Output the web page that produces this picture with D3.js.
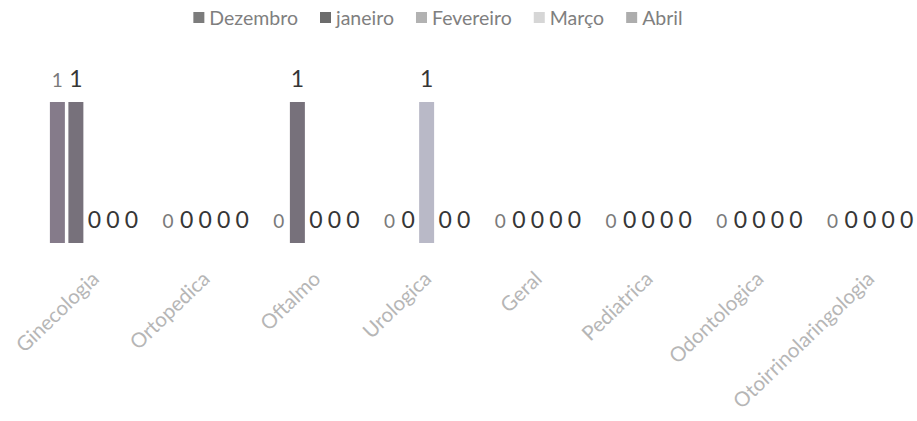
<!DOCTYPE html>
<html>
<head>
<meta charset="utf-8">
<script src="https://cdn.jsdelivr.net/npm/d3@7"></script>
<style>
  html, body { margin: 0; padding: 0; background: #ffffff; }
  svg { display: block; }
  text { font-family: Lato, "Open Sans", sans-serif; }
</style>
</head>
<body>
<svg id="chart" width="917" height="421"></svg>
<script>
// ---- data ----
const categories = ["Ginecologia", "Ortopedica", "Oftalmo", "Urologica", "Geral", "Pediatrica", "Odontologica", "Otoirrinolaringologia"];
const seriesNames = ["Dezembro", "janeiro", "Fevereiro", "Março", "Abril"];
const dezembro  = [1, 0, 0, 0, 0, 0, 0, 0];
const janeiro   = [1, 0, 1, 0, 0, 0, 0, 0];
const fevereiro = [0, 0, 0, 1, 0, 0, 0, 0];
const marco     = [0, 0, 0, 0, 0, 0, 0, 0];
const abril     = [0, 0, 0, 0, 0, 0, 0, 0];
const seriesValues = [dezembro, janeiro, fevereiro, marco, abril];
const seriesColors = ["#857b8a", "#77717b", "#b9b9c7", "#d8d8d8", "#ababab"];
const legendColors = ["#7c7c7c", "#6c6c6c", "#b2b2b2", "#d6d6d6", "#adadad"];

// ---- layout ----
const svg = d3.select("#chart");

const x0 = d3.scaleBand().domain(categories).range([39, 925]).paddingInner(0.165).paddingOuter(0.0825);
const x1 = d3.scaleBand().domain(seriesNames).range([0, x0.bandwidth()]).paddingInner(0.19).paddingOuter(0.095);
const y = d3.scaleLinear().domain([0, 1]).range([243, 102]);

const rows = [];
categories.forEach((c, ci) => {
  seriesNames.forEach((s, si) => {
    rows.push({ cat: c, series: s, si: si, value: seriesValues[si][ci] });
  });
});

// bars
svg.append("g").selectAll("rect")
  .data(rows.filter(d => d.value > 0))
  .join("rect")
  .attr("x", d => x0(d.cat) + x1(d.series))
  .attr("y", d => y(d.value))
  .attr("width", x1.bandwidth())
  .attr("height", d => y(0) - y(d.value))
  .attr("fill", d => seriesColors[d.si]);

// data labels
svg.append("g").selectAll("text")
  .data(rows)
  .join("text")
  .attr("x", d => x0(d.cat) + x1(d.series) + x1.bandwidth() / 2)
  .attr("y", d => y(d.value) - 15)
  .attr("text-anchor", "middle")
  .attr("font-size", d => d.si === 0 ? 19 : 23)
  .attr("fill", d => d.si === 0 ? "#7a7a7a" : "#363636")
  .text(d => d.value);

// x axis (labels only)
const xAxis = d3.axisBottom(x0).tickSize(0).tickPadding(0);
const gx = svg.append("g").attr("transform", `translate(0, 262)`).call(xAxis);
gx.select(".domain").remove();
gx.selectAll("text")
  .attr("font-family", "Lato, 'Open Sans', sans-serif")
  .attr("font-size", 20.5)
  .attr("fill", "#b6b6b6")
  .attr("text-anchor", "end")
  .attr("dy", "0.7em")
  .attr("transform", "translate(-4,8) rotate(-44)");

// legend
const legend = svg.append("g");
const items = legend.selectAll("g").data(seriesNames).join("g");
items.append("rect").attr("width", 11).attr("height", 11).attr("y", -6)
  .attr("fill", (d, i) => legendColors[i]);
items.append("text").attr("x", 16).attr("y", 0).attr("dy", "0.35em")
  .attr("font-size", 19.5).attr("fill", "#7f7f7f").text(d => d);
let cx = 0;
items.each(function () {
  const g = d3.select(this);
  g.attr("transform", `translate(${cx},0)`);
  cx += 16 + g.select("text").node().getComputedTextLength() + 22;
});
const total = cx - 22;
legend.attr("transform", `translate(${438 - total / 2}, 18)`);
</script>
</body>
</html>
